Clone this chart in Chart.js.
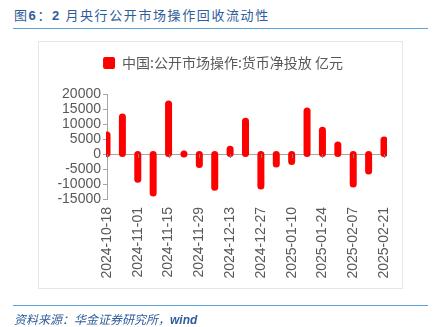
<!DOCTYPE html>
<html>
<head>
<meta charset="utf-8">
<script src="https://cdn.jsdelivr.net/npm/chart.js@4.4.1/dist/chart.umd.min.js"></script>
<style>
  html, body { margin: 0; padding: 0; background: #fff; }
  #page { position: relative; width: 436px; height: 327px; overflow: hidden; }
  #title {
    position: absolute; left: 14px; top: 5px;
    font: 13px "Noto Sans CJK SC", sans-serif; letter-spacing: 1.6px;
    color: #2f5d9a;
  }
  #title b { font-family: "Liberation Sans", Arial, sans-serif; }
  .rule { position: absolute; left: 13px; width: 415px; height: 0; border-top: 1.5px solid #5aa2d8; }
  #frame { position: absolute; left: 38px; top: 41px; width: 365px; height: 248px; border: 1px solid #e6e6e6; box-sizing: border-box; }
  #source {
    position: absolute; left: 14px; top: 310px;
    font: italic 12px "Noto Sans CJK SC", sans-serif; color: #2f5d9a;
  }
  #source span { font-family: "Liberation Sans", Arial, sans-serif; font-weight: bold; }
  #wrap { position: absolute; left: 0; top: 0; width: 436px; height: 327px; }
</style>
</head>
<body>
<div id="page">
  <div id="title">图<b>6</b>：<b>2</b> 月央行公开市场操作回收流动性</div>
  <div class="rule" style="top:28px"></div>
  <div id="frame"></div>
  <div id="wrap"><canvas id="chart"></canvas></div>
  <div class="rule" style="top:305px"></div>
  <div id="source">资料来源：华金证券研究所，<span>wind</span></div>
</div>
<script>
// weekly net injection through open market operations (100 mn yuan)
const weeks = [
  '2024-10-18', '2024-10-25', '2024-11-01', '2024-11-08', '2024-11-15',
  '2024-11-22', '2024-11-29', '2024-12-06', '2024-12-13', '2024-12-20',
  '2024-12-27', '2025-01-03', '2025-01-10', '2025-01-17', '2025-01-24',
  '2025-01-31', '2025-02-07', '2025-02-14', '2025-02-21'
];
const netInjection = [
  6300, 12300, -8400, -13000, 16700,
  0, -3500, -11100, 1600, 10900,
  -10700, -3300, -2500, 14300, 7900,
  3000, -10000, -5700, 4700
];
const seriesName = '中国:公开市场操作:货币净投放 亿元';
const yTicks = { min: -15000, max: 20000, step: 5000 };

const red = '#ff0000';
const grey = '#595959';
const axisGrey = '#a6a6a6';

// bars are drawn as thick round-capped strokes from the base to the value
const roundBars = {
  id: 'roundBars',
  afterLayout(chart) {
    // legend sits a bit right of the plot centre and closer to the frame top
    const lg = chart.legend;
    lg.left += 7;
    lg.right += 7;
    lg.top -= 14;
    lg.bottom -= 14;
  },
  beforeDatasetDraw() { return false; },
  afterDatasetsDraw(chart) {
    const ctx = chart.ctx;
    const area = chart.chartArea;
    const meta = chart.getDatasetMeta(0);
    ctx.save();
    ctx.beginPath();
    ctx.rect(area.left - 1, 0, area.right - area.left + 4, chart.height);
    ctx.clip();
    ctx.strokeStyle = red;
    ctx.lineWidth = 7;
    ctx.lineCap = 'round';
    meta.data.forEach(bar => {
      ctx.beginPath();
      ctx.moveTo(bar.x, bar.base);
      ctx.lineTo(bar.x, bar.y);
      ctx.stroke();
    });
    ctx.restore();

    // small category ticks sitting on the zero line
    const x = chart.scales.x;
    const y0 = chart.scales.y.getPixelForValue(0);
    ctx.save();
    ctx.strokeStyle = '#7f7f7f';
    ctx.lineWidth = 1;
    weeks.forEach((w, i) => {
      if (i % 2) return;
      const px = Math.round(x.getPixelForValue(i)) + 0.5;
      ctx.beginPath();
      ctx.moveTo(px, y0);
      ctx.lineTo(px, y0 + 4);
      ctx.stroke();
    });
    ctx.restore();
  }
};

new Chart(document.getElementById('chart'), {
  type: 'bar',
  data: {
    labels: weeks,
    datasets: [{
      label: seriesName,
      data: netInjection,
      backgroundColor: red,
      barThickness: 7
    }]
  },
  plugins: [roundBars],
  options: {
    responsive: true,
    maintainAspectRatio: false,
    animation: false,
    layout: { padding: { left: 48, right: 52, top: 53, bottom: 48 } },
    plugins: {
      tooltip: { enabled: false },
      legend: {
        position: 'top',
        labels: {
          boxWidth: 12,
          boxHeight: 12,
          useBorderRadius: true,
          borderRadius: 2,
          padding: 17,
          color: grey,
          font: { family: '"Noto Sans CJK SC", sans-serif', size: 14 }
        }
      }
    },
    scales: {
      x: {
        offset: false,
        grid: { display: false, drawTicks: false },
        border: { display: false },
        afterFit: s => { s.height = 80; },
        ticks: {
          autoSkip: false,
          minRotation: 90,
          maxRotation: 90,
          padding: 8,
          color: grey,
          font: { family: '"Liberation Sans", Arial, sans-serif', size: 14 },
          callback: (v, i) => (i % 2 === 0 ? weeks[i] : '')
        }
      },
      y: {
        min: yTicks.min,
        max: yTicks.max,
        afterFit: s => { s.width = 59; },
        grid: {
          color: c => (c.tick && c.tick.value === 0 ? axisGrey : 'transparent'),
          tickColor: axisGrey,
          tickLength: 4
        },
        border: { display: true, color: axisGrey },
        ticks: {
          stepSize: yTicks.step,
          autoSkip: false,
          padding: 2,
          color: grey,
          font: { family: '"Liberation Sans", Arial, sans-serif', size: 14 },
          callback: v => String(v)
        }
      }
    }
  }
});
</script>
</body>
</html>
